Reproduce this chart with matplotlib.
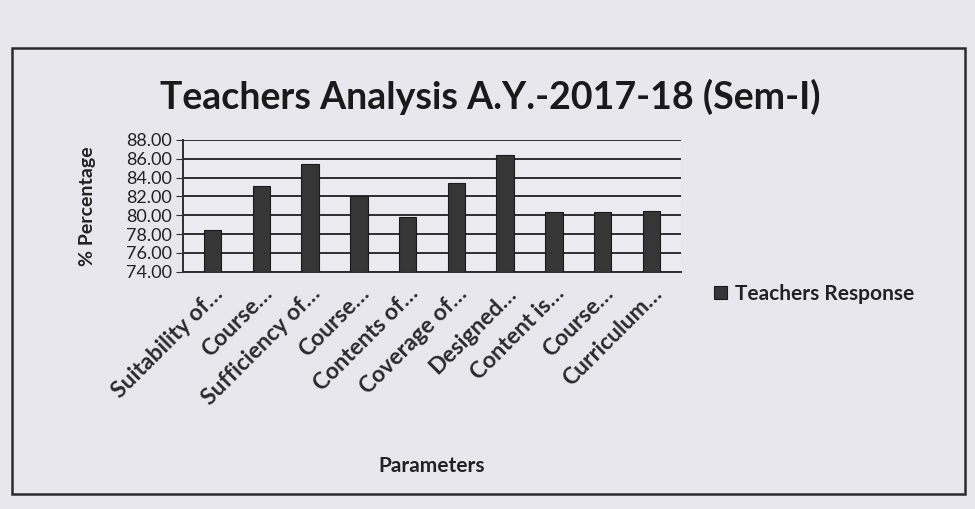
import matplotlib.pyplot as plt
from matplotlib.patches import Rectangle

params = ["Suitability of…", "Course…", "Sufficiency of…", "Course…", "Contents of…",
          "Coverage of…", "Designed…", "Content is…", "Course…", "Curriculum…"]
response = [78.4, 83.1, 85.4, 82.0, 79.8, 83.4, 86.4, 80.3, 80.4, 80.5]
yticks = [74, 76, 78, 80, 82, 84, 86, 88]

plt.rcParams['font.family'] = ['Lato', 'DejaVu Sans']

fig = plt.figure(figsize=(9.75, 5.09), dpi=100, facecolor='#e9e7ee')
ax = fig.add_axes([0.188, 0.466, 0.51, 0.259])
ax.set_facecolor('#ecebf1')

# chart border as in the printed page
fig.patches.append(Rectangle((0.012, 0.03), 0.978, 0.875, transform=fig.transFigure,
                             fill=False, edgecolor='#2b2b2b', linewidth=1.8))

x = range(len(params))
ax.bar(x, [v - 74 for v in response], bottom=74, width=0.36,
       color='#363636', edgecolor='#1a1a1a', linewidth=0.8, label='Teachers Response', zorder=3)

ax.set_ylim(74, 88)
ax.set_xlim(-0.6, len(params) - 0.4)
ax.set_yticks(yticks)
ax.set_yticklabels([f"{v:.2f}" for v in yticks], fontsize=13, color='#222222')
ax.yaxis.grid(True, color='#2e2e2e', linewidth=1.4, zorder=0)

ax.set_xticks(list(x))
ax.set_xticklabels(params, rotation=45, ha='right', rotation_mode='anchor',
                   fontsize=16.5, fontweight='bold', color='#2a2a2a')
ax.tick_params(axis='x', length=0, pad=8)
ax.tick_params(axis='y', length=5, color='#2e2e2e', pad=3)

for s in ['top', 'right']:
    ax.spines[s].set_visible(False)
ax.spines['left'].set_color('#2e2e2e')
ax.spines['left'].set_linewidth(1.4)
ax.spines['bottom'].set_color('#2e2e2e')
ax.spines['bottom'].set_linewidth(1.4)

ax.set_ylabel('% Percentage', fontsize=14, fontweight='bold', color='#222222', labelpad=22)
ax.set_xlabel('Parameters', fontsize=15, fontweight='bold', color='#222222', labelpad=34)

fig.text(0.503, 0.81, 'Teachers Analysis A.Y.-2017-18 (Sem-I)', ha='center', va='center',
         fontsize=27, fontweight='bold', color='#1a1a1a')

ax.legend(loc='center left', bbox_to_anchor=(1.03, -0.17), frameon=False,
          handlelength=0.6, handleheight=0.6, handletextpad=0.4,
          labelcolor='#222222', prop={'weight': 'bold', 'size': 15})

fig.savefig('out.png', dpi=100, facecolor=fig.get_facecolor())
